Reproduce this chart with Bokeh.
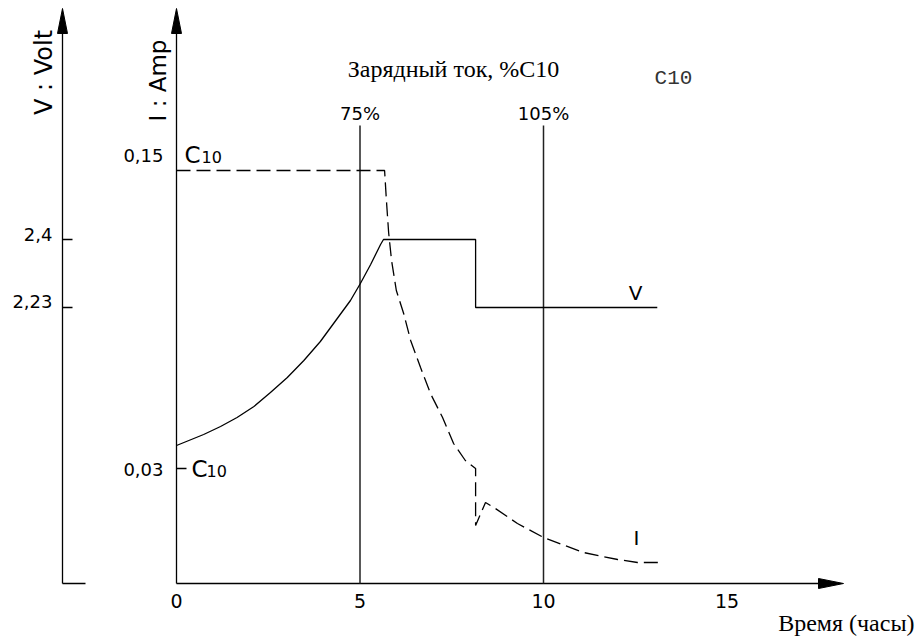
import numpy as np
from bokeh.plotting import figure
from bokeh.models import Label
from bokeh.core.properties import value
from bokeh.embed import file_html
from bokeh.resources import INLINE

# ---------------- data ----------------
# Voltage curve V (solid): hours vs. level
hours_v = [0, 0.74, 1.20, 1.65, 2.11, 2.56, 3.02, 3.47, 3.92, 4.38, 4.74, 5.01,
           5.29, 5.56, 5.64, 8.15, 8.15, 13.1]
level_v = [138, 149, 157, 166, 177, 191, 206, 223, 242, 265, 283, 300,
           319, 339, 344, 344, 276, 276]

# Current curve I (dashed)
hours_i = [0, 5.67, 5.72, 5.78, 5.86, 5.99, 6.19, 6.38, 6.65, 6.92, 7.25, 7.55,
           7.87, 8.15, 8.15, 8.42, 8.69, 9.29, 10.0, 11.09, 12.02, 12.56, 13.24]
level_i = [413, 413, 383, 351, 323, 293, 270, 243, 216, 190, 166, 140,
           123, 115, 58, 81, 75, 60, 46, 31, 24, 21, 21]

x_ticks = [0, 5, 10, 15]
x_tick_labels = ["0", "5", "10", "15"]

i_ticks = [413, 115]
i_tick_labels = ["0,15", "0,03"]

v_ticks = [344, 276]
v_tick_labels = ["2,4", "2,23"]

marker_hours = [5, 10]
marker_labels = ["75%", "105%"]

title_text = "Зарядный ток, %C10"
x_title = "Время (часы)"
v_title = "V : Volt"
i_title = "I : Amp"

# ---------------- layout constants ----------------
W, H = 918, 639
PX_PER_H = 36.7
x0 = -176 / PX_PER_H
x1 = x0 + W / PX_PER_H
y0, y1 = 583 - H, 583

def hx(px):  # picture pixel -> hours
    return (px - 176) / PX_PER_H

def ly(py):  # picture pixel -> level
    return 583 - py

CAD = "DejaVu Sans"
SERIF = "Liberation Serif"

p = figure(width=W, height=H, x_range=(x0, x1), y_range=(y0, y1),
           output_backend="svg", toolbar_location=None, min_border=0)
p.axis.visible = False
p.grid.visible = False
p.outline_line_color = None
p.background_fill_color = "white"
p.border_fill_color = "white"

LW = 1.3
x_axis_end = hx(843)
v_axis_x = hx(62)
y_axis_top = ly(8)
head_len_px, head_half_px = 25, 5

# axes lines
p.line([0, x_axis_end - head_len_px / PX_PER_H], [0, 0], line_color="black", line_width=LW)
p.line([0, 0], [0, y_axis_top - head_len_px], line_color="black", line_width=LW)
p.line([v_axis_x, v_axis_x], [0, y_axis_top - head_len_px], line_color="black", line_width=LW)
p.line([v_axis_x, hx(85)], [0, 0], line_color="black", line_width=LW)

# arrowheads (computed from axis ends)
hx_len = head_len_px / PX_PER_H
hx_half = head_half_px / PX_PER_H
p.patches(
    xs=[[x_axis_end, x_axis_end - hx_len, x_axis_end - hx_len],
        [0, -hx_half, hx_half],
        [v_axis_x, v_axis_x - hx_half, v_axis_x + hx_half]],
    ys=[[0, head_half_px, -head_half_px],
        [y_axis_top, y_axis_top - head_len_px, y_axis_top - head_len_px],
        [y_axis_top, y_axis_top - head_len_px, y_axis_top - head_len_px]],
    fill_color="black", line_color="black", line_width=1)

# vertical marker lines at 75% / 105%
marker_top = ly(125)
for h in marker_hours:
    p.line([h, h], [0, marker_top], line_color="#222222", line_width=1.5)
p.text(x=marker_hours, y=[ly(113)] * len(marker_hours), text=marker_labels,
       text_font=value(CAD), text_font_size="18px", text_align="center",
       text_baseline="middle", text_color="black")

# ticks on axes
tick_len = 10 / PX_PER_H
for lv in v_ticks:
    p.line([v_axis_x, v_axis_x + tick_len], [lv, lv], line_color="black", line_width=LW)
p.line([0, tick_len], [i_ticks[1], i_ticks[1]], line_color="black", line_width=LW)

# curves
p.line(hours_v, level_v, line_color="black", line_width=LW)
p.line(hours_i, level_i, line_color="black", line_width=LW, line_dash="14 6")

# x tick labels
p.text(x=x_ticks, y=[ly(600)] * len(x_ticks), text=x_tick_labels,
       text_font=value(CAD), text_font_size="19px", text_align="center",
       text_baseline="middle", text_color="black")

# V tick labels
p.text(x=[v_axis_x] * len(v_ticks), y=v_ticks, text=v_tick_labels,
       x_offset=-10, y_offset=[-5, -6],
       text_font=value(CAD), text_font_size="18px", text_align="right",
       text_baseline="middle", text_color="black")

# I tick labels
p.text(x=[0] * len(i_ticks), y=i_ticks, text=i_tick_labels,
       x_offset=-13, y_offset=[-15, 1],
       text_font=value(CAD), text_font_size="18px", text_align="right",
       text_baseline="middle", text_color="black")

# C10 marks next to I ticks
p.text(x=[hx(184), hx(191)], y=i_ticks, text=["C", "C"], y_offset=[-16, 0],
       text_font=value(CAD), text_font_size="23px", text_align="left",
       text_baseline="middle", text_color="black")
p.text(x=[hx(201), hx(206)], y=i_ticks, text=["10", "10"], y_offset=[-14, 2],
       text_font=value(CAD), text_font_size="16px", text_align="left",
       text_baseline="middle", text_color="black")

# curve labels
p.text(x=[hx(635), hx(636)], y=[ly(292), ly(537)], text=["V", "I"],
       text_font=value(CAD), text_font_size="20px", text_align="center",
       text_baseline="middle", text_color="black")

# titles
p.add_layout(Label(x=hx(453), y=ly(68), text=title_text, text_font=SERIF,
                   text_font_size="24px", text_align="center", text_baseline="middle",
                   text_color="black"))
p.add_layout(Label(x=hx(673), y=ly(78), text="C10", text_font="Liberation Mono",
                   text_font_size="21px", text_align="center", text_baseline="middle",
                   text_color="#333333"))
p.add_layout(Label(x=hx(914), y=ly(622), text=x_title, text_font=SERIF,
                   text_font_size="24px", text_align="right", text_baseline="middle",
                   text_color="black"))
p.add_layout(Label(x=hx(43), y=ly(72), text=v_title, text_font=CAD,
                   text_font_size="24px", text_align="center", text_baseline="middle",
                   angle=np.pi / 2, text_color="black"))
p.add_layout(Label(x=hx(157), y=ly(80), text=i_title, text_font=CAD,
                   text_font_size="23px", text_align="center", text_baseline="middle",
                   angle=np.pi / 2, text_color="black"))

open("out.html", "w").write(file_html(p, INLINE))
